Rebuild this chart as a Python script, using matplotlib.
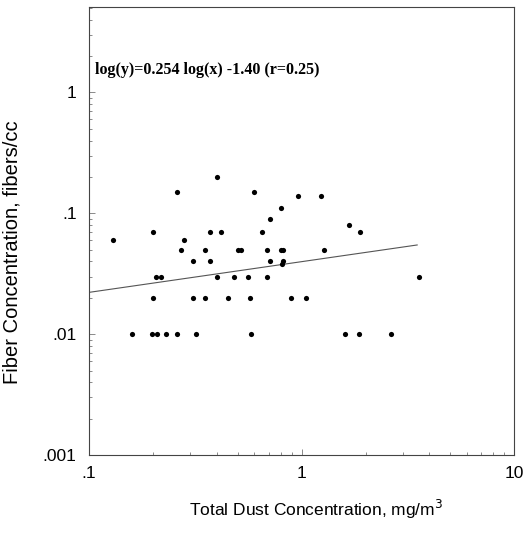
import numpy as np
import matplotlib
matplotlib.use("Agg")
import matplotlib.pyplot as plt
from matplotlib.ticker import FixedLocator, LogLocator, NullFormatter

# Total dust (mg/m3) vs fiber (fibers/cc)
dust = [0.13, 0.20, 0.26, 0.40, 0.60, 0.80, 0.71, 0.37, 0.42, 0.65,
        0.28, 0.27, 0.35, 0.50, 0.52, 0.69, 0.80, 0.82, 0.31, 0.37,
        0.71, 0.82, 0.81, 0.207, 0.218, 0.40, 0.48, 0.56, 0.69, 3.57,
        0.20, 0.31, 0.35, 0.45, 0.57, 0.89, 1.05, 0.159, 0.197, 0.209,
        0.23, 0.26, 0.32, 0.58, 1.61, 1.86, 2.63, 0.96, 1.24, 1.67,
        1.88, 1.27]
fiber = [0.06, 0.07, 0.15, 0.20, 0.15, 0.11, 0.09, 0.07, 0.07, 0.07,
         0.06, 0.05, 0.05, 0.05, 0.05, 0.05, 0.05, 0.05, 0.04, 0.04,
         0.04, 0.04, 0.038, 0.03, 0.03, 0.03, 0.03, 0.03, 0.03, 0.03,
         0.02, 0.02, 0.02, 0.02, 0.02, 0.02, 0.02, 0.01, 0.01, 0.01,
         0.01, 0.01, 0.01, 0.01, 0.01, 0.01, 0.01, 0.14, 0.14, 0.08,
         0.07, 0.05]

slope = 0.254
intercept = -1.40
fit_range = [0.1, 3.5]

x_ticks = [0.1, 1, 10]
x_tick_labels = [".1", "1", "10"]
y_ticks = [0.001, 0.01, 0.1, 1]
y_tick_labels = [".001", ".01", ".1", "1"]

plt.rcParams["font.family"] = ["Liberation Sans", "DejaVu Sans"]

fig = plt.figure(figsize=(5.28, 5.33), dpi=100)
ax = fig.add_axes([0.1686, 0.1463, 0.805, 0.8406])

ax.scatter(dust, fiber, s=14, color="black", zorder=3, linewidths=0)

xf = np.logspace(np.log10(fit_range[0]), np.log10(fit_range[1]), 50)
yf = 10 ** (slope * np.log10(xf) + intercept)
ax.plot(xf, yf, color="#555555", lw=0.8)

ax.set_xscale("log")
ax.set_yscale("log")
ax.set_xlim(0.1, 10)
ax.set_ylim(0.001, 5.1)

ax.xaxis.set_major_locator(FixedLocator(x_ticks))
ax.set_xticklabels(x_tick_labels)
ax.yaxis.set_major_locator(FixedLocator(y_ticks))
ax.set_yticklabels(y_tick_labels)
ax.xaxis.set_minor_locator(LogLocator(base=10, subs=np.arange(2, 10)))
ax.yaxis.set_minor_locator(LogLocator(base=10, subs=np.arange(2, 10)))
ax.xaxis.set_minor_formatter(NullFormatter())
ax.yaxis.set_minor_formatter(NullFormatter())

ax.tick_params(which="both", direction="in", color="#777777", width=0.6,
               labelsize=12.5)
ax.tick_params(axis="y", pad=9)
ax.tick_params(axis="x", pad=8)
ax.tick_params(which="major", length=4)
ax.tick_params(which="minor", length=2)
for sp in ax.spines.values():
    sp.set_color("#444444")
    sp.set_linewidth(0.8)

ax.set_xlabel("Total Dust Concentration, mg/m$^3$", fontsize=12.5)
ax.xaxis.set_label_coords(0.534, -0.095)
ax.set_ylabel("Fiber Concentration, fibers/cc", fontsize=14.5)
ax.yaxis.set_label_coords(-0.16, 0.453)

ax.text(0.015, 0.86, "log(y)=0.254 log(x) -1.40 (r=0.25)",
        transform=ax.transAxes, fontsize=11.5, fontweight="bold",
        family="Liberation Serif", va="center", ha="left")

fig.savefig("out.png", dpi=100)
